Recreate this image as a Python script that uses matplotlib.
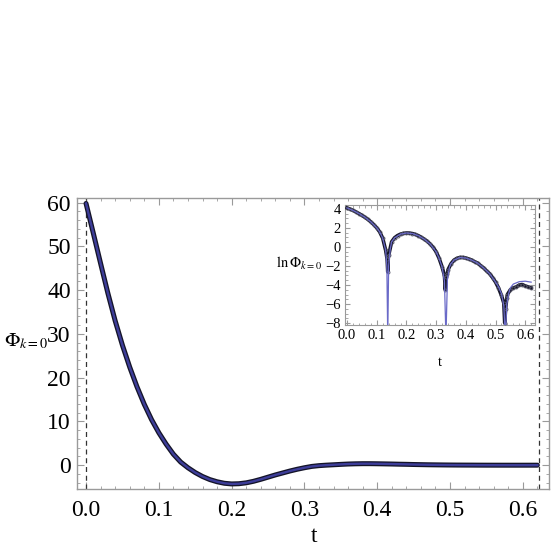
"""Damped oscillation of Phi_{k=0}(t) with a log-scale inset"""

import matplotlib.pyplot as plt
from matplotlib.ticker import MultipleLocator

plt.rcParams['font.family'] = ['Liberation Serif', 'DejaVu Serif']
plt.rcParams['mathtext.fontset'] = 'stix'

# main curve
t_main = [0.00, 0.01, 0.02, 0.03, 0.04, 0.05, 0.06, 0.07, 0.08, 0.09,
          0.10, 0.11, 0.12, 0.13, 0.14, 0.15, 0.16, 0.17, 0.18, 0.19,
          0.20, 0.21, 0.22, 0.23, 0.24, 0.25, 0.26, 0.27, 0.28, 0.29,
          0.30, 0.31, 0.32, 0.33, 0.34, 0.35, 0.36, 0.37, 0.38, 0.39,
          0.40, 0.41, 0.42, 0.43, 0.44, 0.45, 0.46, 0.47, 0.48, 0.49,
          0.50, 0.51, 0.52, 0.53, 0.54, 0.55, 0.56, 0.57, 0.58, 0.59,
          0.60, 0.61, 0.62]
phi_main = [59.8, 53.0, 46.1, 39.3, 33.0, 27.4, 22.4, 17.9, 13.9, 10.4,
            7.4, 4.8, 2.5, 0.7, -0.6, -1.7, -2.6, -3.3, -3.8, -4.15,
            -4.3, -4.25, -4.05, -3.7, -3.25, -2.75, -2.25, -1.8, -1.35, -0.95,
            -0.6, -0.3, -0.12, -0.01, 0.08, 0.17, 0.25, 0.3, 0.33, 0.33,
            0.31, 0.28, 0.25, 0.21, 0.18, 0.14, 0.11, 0.08, 0.06, 0.04,
            0.025, 0.013, 0.006, 0.001, -0.008, -0.013, -0.016, -0.018, -0.019, -0.02,
            -0.019, -0.017, -0.015]
t_window = [0.0, 0.622]

# inset: ln of the data points
t_ln = [0.00, 0.01, 0.02, 0.03, 0.04, 0.05, 0.06, 0.07, 0.08, 0.09,
        0.10, 0.11, 0.12, 0.13, 0.135, 0.137, 0.139, 0.14, 0.15, 0.16,
        0.17, 0.18, 0.19, 0.20, 0.21, 0.22, 0.23, 0.24, 0.25, 0.26,
        0.27, 0.28, 0.29, 0.30, 0.31, 0.32, 0.328, 0.331, 0.334, 0.338,
        0.34, 0.35, 0.36, 0.37, 0.38, 0.39, 0.40, 0.41, 0.42, 0.43,
        0.44, 0.45, 0.46, 0.47, 0.48, 0.49, 0.50, 0.51, 0.52, 0.528,
        0.531, 0.534, 0.538, 0.54, 0.55, 0.56, 0.57, 0.58, 0.59, 0.60,
        0.61, 0.62]
ln_data = [4.09, 3.97, 3.83, 3.67, 3.50, 3.31, 3.11, 2.89, 2.63, 2.34,
           2.0, 1.57, 0.92, -0.36, -1.3, -2.6, -1.0, -0.9, 0.53, 0.96,
           1.19, 1.34, 1.42, 1.46, 1.45, 1.40, 1.31, 1.18, 1.01, 0.81,
           0.59, 0.30, -0.05, -0.51, -1.2, -2.1, -3.0, -4.5, -3.2, -2.8,
           -2.4, -1.77, -1.39, -1.2, -1.11, -1.11, -1.17, -1.27, -1.39, -1.56,
           -1.71, -1.97, -2.21, -2.53, -2.81, -3.22, -3.69, -4.3, -5.1, -5.9,
           -8.0, -6.5, -5.4, -5.0, -4.5, -4.3, -4.2, -4.0, -3.95, -4.1,
           -4.2, -4.3]

# inset: ln of the fitted curve
t_fit = [0.00, 0.02, 0.04, 0.06, 0.08, 0.10, 0.11, 0.12, 0.13, 0.134,
         0.137, 0.140, 0.145, 0.15, 0.16, 0.18, 0.20, 0.22, 0.24, 0.26,
         0.28, 0.30, 0.31, 0.32, 0.328, 0.333, 0.338, 0.345, 0.35, 0.36,
         0.38, 0.40, 0.42, 0.44, 0.46, 0.48, 0.50, 0.51, 0.52, 0.528,
         0.533, 0.538, 0.545, 0.55, 0.56, 0.58, 0.60, 0.62]
ln_fit = [4.09, 3.83, 3.50, 3.11, 2.63, 2.0, 1.57, 0.92, -0.36, -2.0,
          -9.5, -2.0, -0.3, 0.53, 0.96, 1.34, 1.46, 1.40, 1.18, 0.81,
          0.30, -0.51, -1.2, -2.1, -3.6, -9.5, -3.4, -2.1, -1.77, -1.39,
          -1.11, -1.17, -1.39, -1.71, -2.21, -2.81, -3.69, -4.2, -4.9, -6.2,
          -9.5, -6.0, -4.8, -4.3, -3.9, -3.65, -3.6, -3.7]

black = '#141428'
blue = '#3d3d99'
frame = '#9a9a9a'

fig = plt.figure(figsize=(5.54, 5.54), dpi=100)
ax = fig.add_axes([0.139, 0.117, 0.852, 0.526])

ax.plot(t_main, phi_main, color=black, lw=3.6, solid_capstyle='round', zorder=3)
ax.plot(t_main, phi_main, color=blue, lw=1.7, zorder=4)
for tw in t_window:
    ax.axvline(tw, color='#333333', lw=0.9, ls=(0, (4, 3)), zorder=2)

ax.set_xlim(-0.0124, 0.636)
ax.set_ylim(-5.5, 61.1)
ax.xaxis.set_major_locator(MultipleLocator(0.1))
ax.xaxis.set_minor_locator(MultipleLocator(0.02))
ax.yaxis.set_major_locator(MultipleLocator(10))
ax.yaxis.set_minor_locator(MultipleLocator(2))
ax.xaxis.set_major_formatter(plt.FuncFormatter(lambda v, p: f"{v:.1f}"))
ax.yaxis.set_major_formatter(plt.FuncFormatter(lambda v, p: f"{v:.0f}"))
ax.tick_params(which='both', direction='in', top=True, right=True,
               color=frame, labelsize=17, labelcolor='black')
ax.tick_params(which='major', length=5)
ax.tick_params(which='minor', length=2.5)
ax.tick_params(axis='x', which='major', pad=8)
ax.tick_params(axis='y', which='major', pad=4.5)
for s in ax.spines.values():
    s.set_color(frame)
    s.set_linewidth(1)

fig.text(26 / 554, 1 - 341 / 554, r"$\Phi_{k=0}$", fontsize=14.5,
         ha='center', va='center')
fig.text(314 / 554, 1 - 537 / 554, "t", fontsize=17, ha='center', va='center')

# inset
axi = fig.add_axes([345 / 554, 1 - 325 / 554, 190 / 554, 120 / 554])
axi.plot(t_fit, ln_fit, color='#6a6ac8', lw=0.9, zorder=4)
axi.plot(t_ln, ln_data, color=black, lw=2.6, zorder=3)
axi.plot(t_ln, ln_data, ls='none', marker='o', ms=2.2, mfc='none',
         mec='#555566', mew=0.6, zorder=3)
axi.set_xlim(-0.007, 0.633)
axi.set_ylim(-8.2, 4.4)
axi.xaxis.set_major_locator(MultipleLocator(0.1))
axi.xaxis.set_minor_locator(MultipleLocator(0.02))
axi.yaxis.set_major_locator(MultipleLocator(2))
axi.yaxis.set_minor_locator(MultipleLocator(0.5))
axi.xaxis.set_major_formatter(plt.FuncFormatter(lambda v, p: f"{v:.1f}"))
axi.yaxis.set_major_formatter(plt.FuncFormatter(lambda v, p: f"{v:.0f}".replace('-', '\u2212')))
axi.tick_params(which='both', direction='in', top=True, right=True,
                color=frame, labelsize=10.5, labelcolor='black')
axi.tick_params(which='major', length=3.5, pad=3)
axi.tick_params(which='minor', length=1.8)
for s in axi.spines.values():
    s.set_color(frame)
    s.set_linewidth(0.8)

fig.text(299 / 554, 1 - 263 / 554, r"$\ln\Phi_{k=0}$", fontsize=10.5,
         ha='center', va='center')
fig.text(440 / 554, 1 - 362 / 554, "t", fontsize=10.5, ha='center', va='center')

fig.savefig('out.png', dpi=100)
